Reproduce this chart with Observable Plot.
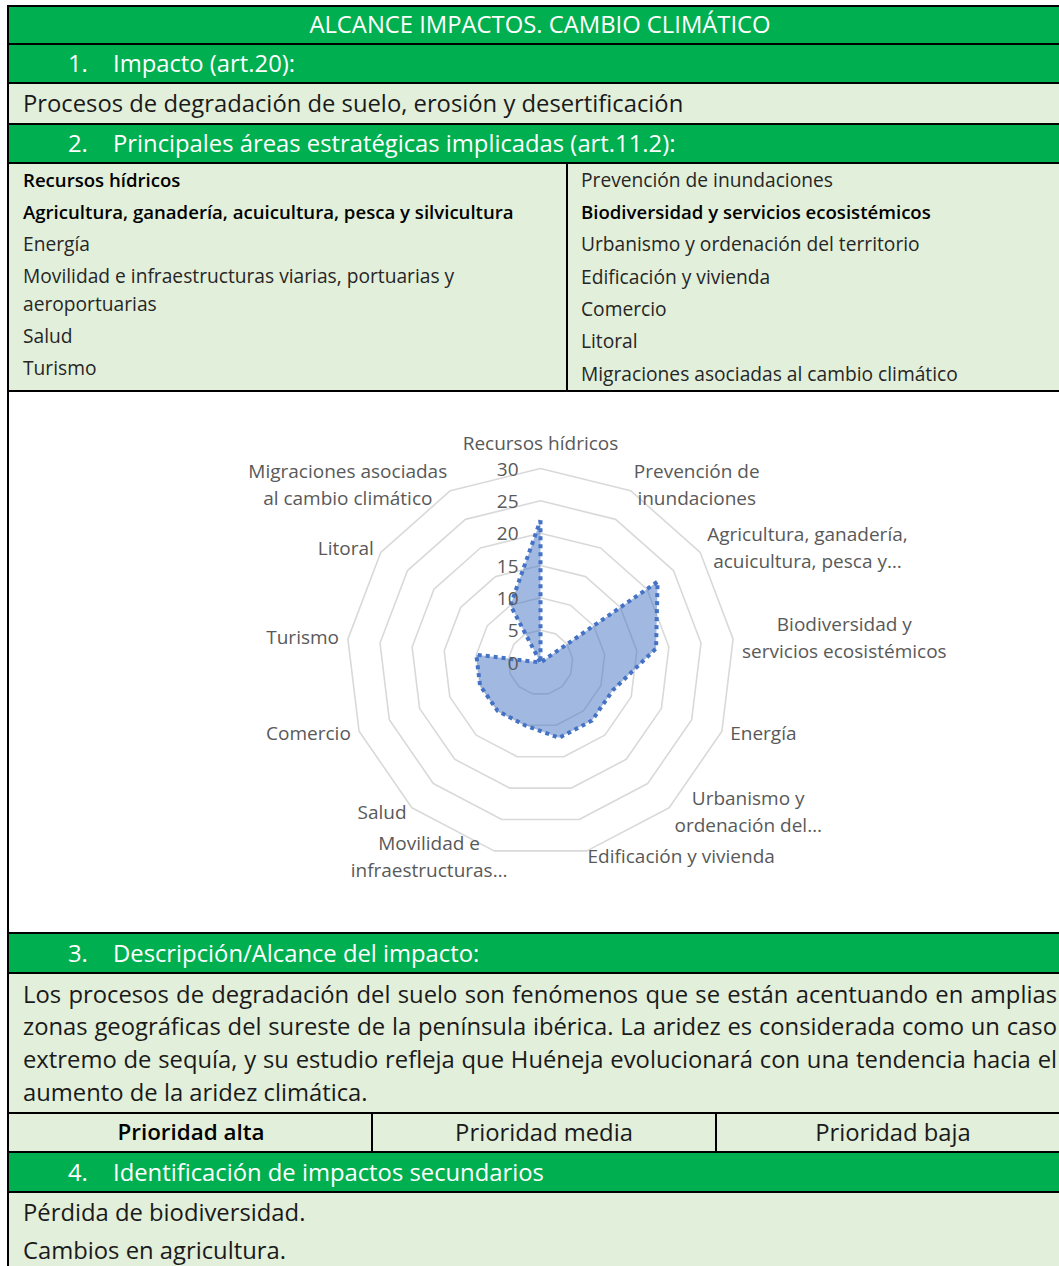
<!DOCTYPE html>
<html lang="es"><head><meta charset="utf-8">
<script src="https://cdn.jsdelivr.net/npm/d3@7"></script>
<script src="https://cdn.jsdelivr.net/npm/@observablehq/plot@0.6"></script>
<style>
html,body{margin:0;padding:0}
body{width:1059px;height:1266px;overflow:hidden;background:#fff;position:relative;font-family:"Open Sans",sans-serif;}
.bg{position:absolute;left:7px;width:1100px;box-sizing:border-box;border-top:2px solid #000;border-left:2px solid #000}
.green{background:#00b050}
.light{background:#e2efda}
.white{background:#fff}
.t{position:absolute;height:40px;line-height:40px;white-space:nowrap;font-size:23.8px;font-weight:400;color:#1a1a1a}
.h{color:#fff}
.s{font-size:19.2px;color:#262626}
.b{font-weight:600;color:#000}
.s.b{font-size:18.6px}
.vl{position:absolute;width:2px;background:#000}
.j{text-align:justify;text-align-last:justify}
#chart{position:absolute;left:0;top:392px}
</style></head>
<body>
<div class="bg green" style="top:5px;height:38px"></div>
<div class="bg green" style="top:43px;height:39px"></div>
<div class="bg light" style="top:82px;height:41px"></div>
<div class="bg green" style="top:123px;height:39px"></div>
<div class="bg light" style="top:162px;height:228px"></div>
<div class="bg white" style="top:390px;height:542px"></div>
<div class="bg green" style="top:932px;height:40px"></div>
<div class="bg light" style="top:972px;height:140px"></div>
<div class="bg light" style="top:1112px;height:39px"></div>
<div class="bg green" style="top:1151px;height:40px"></div>
<div class="bg light" style="top:1191px;height:100px"></div>
<div class="vl" style="left:566px;top:164px;height:226px"></div>
<div class="vl" style="left:371px;top:1114px;height:37px"></div>
<div class="vl" style="left:715px;top:1114px;height:37px"></div>

<div class="t h" style="left:240px;width:600px;top:4px;text-align:center">ALCANCE IMPACTOS. CAMBIO CLIMÁTICO</div>
<div class="t h" style="left:68px;top:43px">1.</div>
<div class="t h" style="left:113px;top:43px">Impacto (art.20):</div>
<div class="t" style="left:23px;top:83px">Procesos de degradación de suelo, erosión y desertificación</div>
<div class="t h" style="left:68px;top:123px">2.</div>
<div class="t h" style="left:113px;top:123px">Principales áreas estratégicas implicadas (art.11.2):</div>

<div class="t s b" style="left:23px;top:160px">Recursos hídricos</div>
<div class="t s b" style="left:23px;top:192px">Agricultura, ganadería, acuicultura, pesca y silvicultura</div>
<div class="t s" style="left:23px;top:224px">Energía</div>
<div class="t s" style="left:23px;top:256px">Movilidad e infraestructuras viarias, portuarias y</div>
<div class="t s" style="left:23px;top:284px">aeroportuarias</div>
<div class="t s" style="left:23px;top:316px">Salud</div>
<div class="t s" style="left:23px;top:348px">Turismo</div>
<div class="t s" style="left:581px;top:160px">Prevención de inundaciones</div>
<div class="t s b" style="left:581px;top:192px">Biodiversidad y servicios ecosistémicos</div>
<div class="t s" style="left:581px;top:224px">Urbanismo y ordenación del territorio</div>
<div class="t s" style="left:581px;top:257px">Edificación y vivienda</div>
<div class="t s" style="left:581px;top:289px">Comercio</div>
<div class="t s" style="left:581px;top:321px">Litoral</div>
<div class="t s" style="left:581px;top:354px">Migraciones asociadas al cambio climático</div>

<div class="t h" style="left:68px;top:933px">3.</div>
<div class="t h" style="left:113px;top:933px">Descripción/Alcance del impacto:</div>
<div class="t j" style="left:23px;width:1034px;top:974px">Los procesos de degradación del suelo son fenómenos que se están acentuando en amplias</div>
<div class="t j" style="left:23px;width:1034px;top:1006px">zonas geográficas del sureste de la península ibérica. La aridez es considerada como un caso</div>
<div class="t j" style="left:23px;width:1034px;top:1039px">extremo de sequía, y su estudio refleja que Huéneja evolucionará con una tendencia hacia el</div>
<div class="t" style="left:23px;top:1072px">aumento de la aridez climática.</div>

<div class="t b" style="left:41px;width:300px;top:1112px;text-align:center;font-size:22.4px">Prioridad alta</div>
<div class="t" style="left:394px;width:300px;top:1112px;text-align:center">Prioridad media</div>
<div class="t" style="left:743px;width:300px;top:1112px;text-align:center">Prioridad baja</div>

<div class="t h" style="left:68px;top:1152px">4.</div>
<div class="t h" style="left:113px;top:1152px">Identificación de impactos secundarios</div>
<div class="t" style="left:23px;top:1192px">Pérdida de biodiversidad.</div>
<div class="t" style="left:23px;top:1230px">Cambios en agricultura.</div>

<div id="chart"></div>
<script>
// ---- data ----
const categories = [
  "Recursos hídricos",
  "Prevención de inundaciones",
  "Agricultura, ganadería, acuicultura, pesca y silvicultura",
  "Biodiversidad y servicios ecosistémicos",
  "Energía",
  "Urbanismo y ordenación del territorio",
  "Edificación y vivienda",
  "Movilidad e infraestructuras viarias, portuarias y aeroportuarias",
  "Salud",
  "Comercio",
  "Turismo",
  "Litoral",
  "Migraciones asociadas al cambio climático"
];
const axisLabels = [
  "Recursos hídricos",
  "Prevención de\ninundaciones",
  "Agricultura, ganadería,\nacuicultura, pesca y…",
  "Biodiversidad y\nservicios ecosistémicos",
  "Energía",
  "Urbanismo y\nordenación del…",
  "Edificación y vivienda",
  "Movilidad e\ninfraestructuras…",
  "Salud",
  "Comercio",
  "Turismo",
  "Litoral",
  "Migraciones asociadas\nal cambio climático"
];
const values = [22, 0, 22, 18, 12, 12, 12, 10, 10, 10, 10, 0, 10];
const ticks = [0, 5, 10, 15, 20, 25, 30];

// ---- geometry ----
const W = 1059, H = 540, CX = 540, CY = 270, R = 194;
const maxV = d3.max(ticks);
const k = R / maxV;
const n = categories.length;
const ang = i => 2 * Math.PI * i / n;
const pt = (v, i) => ({x: v * Math.sin(ang(i)), y: v * Math.cos(ang(i))});

const rings = ticks.filter(t => t > 0).flatMap(t =>
  d3.range(n + 1).map(i => ({level: t, ...pt(t, i % n)})));
const series = d3.range(n + 1).map(i => ({category: categories[i % n], value: values[i % n], ...pt(values[i % n], i % n)}));

const FS = 19, LH = 27;
const ctx = document.createElement("canvas").getContext("2d");
ctx.font = `${FS}px "Open Sans"`;
const labelData = axisLabels.map((lab, i) => {
  const a = ang(i), s = Math.sin(a), c = Math.cos(a);
  const rp = R + 11;
  const px = rp * s, py = -rp * c;
  const lines = lab.split("\n");
  const w = d3.max(lines, l => ctx.measureText(l).width);
  const h = lines.length * LH;
  let cx, cy;
  if (Math.abs(s) < 0.05) { cx = px; cy = py - h / 2 - 3; }
  else if (s < 0 && c < -0.9) { cx = px - (w / 2 - 16); cy = py - 2.5 + 4.5 * c; }
  else { cx = px + Math.sign(s) * (w / 2 - 2); cy = py - 2.5 + 4.5 * c; }
  return {label: lab, x: cx / k, y: -cy / k};
});

const chart = Plot.plot({
  width: W, height: H, margin: 0,
  x: {domain: [-maxV, maxV], range: [CX - R, CX + R], axis: null},
  y: {domain: [-maxV, maxV], range: [CY + R, CY - R], axis: null},
  style: {fontFamily: '"Open Sans", sans-serif', fontSize: FS + "px", color: "#595959", background: "transparent", overflow: "visible"},
  marks: [
    Plot.line(rings, {x: "x", y: "y", z: "level", stroke: "#d9d9d9", strokeWidth: 1.6, strokeLinejoin: "miter", curve: "linear"}),
    Plot.line(series, {x: "x", y: "y", fill: "#4472c4", fillOpacity: 0.5, stroke: "none", curve: "linear"}),
    Plot.line(series, {x: "x", y: "y", stroke: "#4472c4", strokeWidth: 4, strokeDasharray: "4,4", strokeLinecap: "butt", strokeLinejoin: "miter", curve: "linear"}),
    Plot.text(ticks, {x: 0, y: d => d, text: d => String(d), textAnchor: "end", lineAnchor: "middle", dx: -22, dy: 1, fill: "#595959", fontSize: FS}),
    Plot.text(labelData, {x: "x", y: "y", text: "label", textAnchor: "middle", lineAnchor: "middle", lineHeight: LH / FS, fill: "#595959", fontSize: FS})
  ]
});
document.getElementById("chart").appendChild(chart);
</script>
</body></html>
